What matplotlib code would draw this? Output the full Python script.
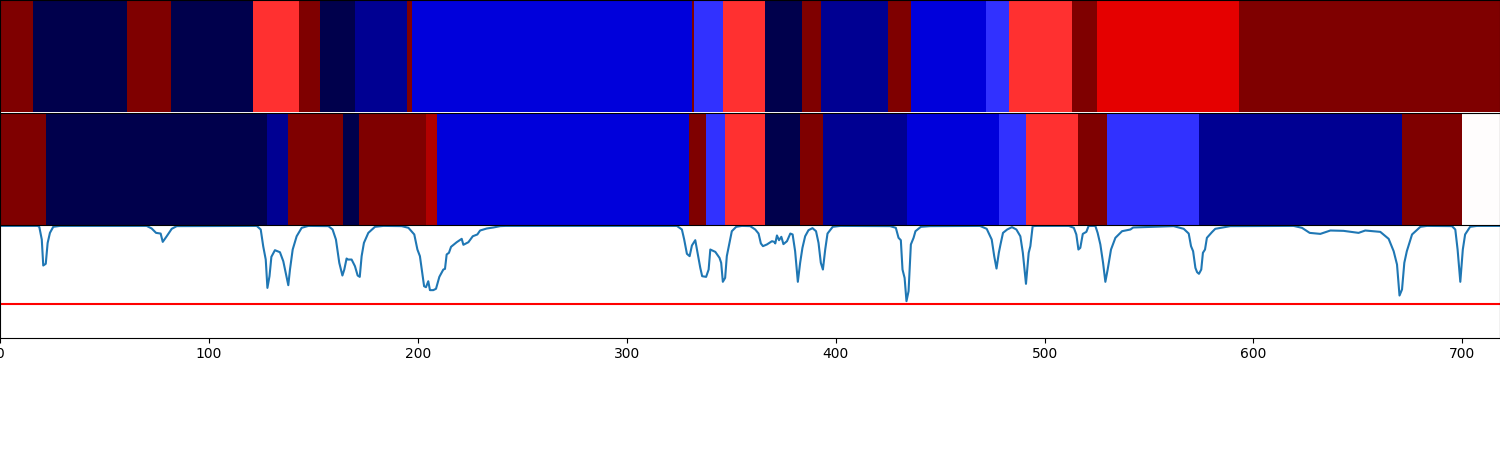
import numpy as np
import matplotlib
matplotlib.use('Agg')
import matplotlib.pyplot as plt

# etiquetas por tramo: fin de cada tramo y clase
top_ends = [16, 61, 82, 121, 143, 153, 170, 195, 197, 331, 332, 346, 366, 384, 393, 425, 436, 472, 483, 513, 525, 593, 718]
top_labels = [10, 0, 10, 0, 7, 10, 0, 1, 10, 2, 10, 3, 7, 0, 10, 1, 10, 2, 3, 7, 10, 8, 10]

mid_ends = [22, 128, 138, 164, 172, 204, 209, 330, 338, 347, 366, 383, 394, 434, 478, 491, 516, 530, 574, 671, 700, 718]
mid_labels = [10, 0, 1, 10, 0, 10, 9, 2, 10, 3, 7, 0, 10, 1, 2, 3, 7, 10, 3, 1, 10, 5]

# curva de abajo
curve_x = [0, 18, 18.8, 20, 20.7, 21.9, 22.8, 23.9, 25.5, 28.7, 70.2, 72.6, 74.7, 76.9, 77.9, 79.8, 82.2, 84.6,
           122.9, 124.8, 126, 127.2, 128, 129, 129.9, 131.6, 134, 135.6, 136.9, 138, 138.8, 140.1, 142, 144.4, 147.6,
           157.2, 159.2, 160.8, 162.4, 163.9, 164.8, 165.9, 166.6, 168.3, 169.9, 171.2, 172.2, 173.1, 174.2, 176.3, 179.5, 183.5,
           192.3, 195.5, 198.3, 199.8, 201, 203, 203.9, 205, 205.8, 207.4, 208.7, 210.3, 212.2, 213, 213.8, 214.9, 215.9,
           218.6, 221, 221.8, 224.2, 226.3, 228.5, 229.8, 233, 236.2, 239.4, 242,
           324, 326.4, 327.5, 328.8, 330.1, 331.2, 332.8, 333.9, 335.2, 336.1, 338, 339.2, 340, 342.4, 344.4, 345.2, 346, 347.1,
           347.9, 349.2, 350.3, 352.4, 355.1, 359.1, 361.5, 363.1, 364.2, 365.2, 367.1, 369.5, 370.6, 371.1, 371.9, 372.9, 374, 375,
           376.7, 378.3, 379.4, 380.6, 381.9, 383, 384.1, 385.4, 387, 388.9, 390.6, 391.8, 392.9, 393.9, 395, 396.1, 398.6, 402.2,
           426.1, 428.8, 430.1, 431.2, 432, 433, 433.9, 434.9, 436, 437.3, 438.2, 440.8, 445.2,
           469.1, 472.3, 474.7, 475.9, 477, 478.1, 478.9, 480.1, 482.1, 484.4, 486.5, 488.4, 489.6, 491.1, 492.4, 493.2, 494.3, 496.4,
           511.6, 514, 515.2, 516.2, 517.1, 518.3, 520, 521.1, 524.3, 525.4, 526.7, 528, 529.1, 530.2, 531.8, 533.9, 537.1, 541.1, 542.4,
           561.8, 566.6, 569, 570.1, 571.1, 572.2, 573, 573.9, 575, 575.8, 576.8, 577.7, 580.1, 581.7, 588.9,
           619.2, 623.2, 626.9, 632, 636.8, 643.1, 650.3, 653.5, 660.7, 664.7, 667.1, 668.7, 669.9, 671.1, 672.2, 673.4, 675.9, 679.9, 683,
           695, 696.6, 697.7, 699, 700.2, 701.3, 703.7, 706.9, 718]
curve_y = [.992, .992, .984, .871, .64, .655, .84, .93, .984, .992, .992, .969, .93, .924, .85, .90, .966, .99,
           .992, .96, .81, .693, .441, .545, .717, .776, .758, .678, .56, .465, .604, .782, .90, .975, .992,
           .99, .96, .871, .664, .551, .604, .702, .693, .693, .634, .551, .539, .723, .841, .93, .984, .992,
           .99, .975, .916, .782, .723, .456, .447, .50, .421, .421, .433, .539, .604, .61, .738, .753, .806,
           .847, .877, .824, .847, .90, .916, .951, .969, .978, .99, .992,
           .992, .96, .871, .744, .723, .818, .865, .753, .619, .545, .539, .604, .782, .761, .708, .664, .495, .53,
           .723, .841, .945, .984, .992, .99, .96, .924, .836, .812, .827, .856, .85, .836, .907, .865, .895, .83,
           .856, .924, .916, .767, .495, .664, .797, .90, .954, .972, .945, .841, .664, .604, .782, .924, .984, .992,
           .99, .975, .886, .865, .604, .53, .323, .412, .827, .886, .945, .984, .99,
           .992, .966, .871, .723, .613, .753, .827, .93, .96, .981, .96, .90, .753, .477, .753, .812, .99, .992,
           .992, .975, .916, .782, .797, .921, .939, .992, .992, .93, .827, .664, .495, .604, .782, .886, .945, .96, .978,
           .99, .966, .924, .812, .767, .619, .581, .566, .604, .753, .782, .886, .936, .966, .99,
           .992, .975, .93, .921, .951, .948, .93, .951, .939, .877, .767, .649, .373, .427, .664, .767, .916, .984, .992,
           .99, .96, .782, .495, .782, .916, .984, .992, .992]
umbral = 0.3


def a_filas(ends, labels):
    # pasa los tramos a un arreglo por cuadro
    largos = np.diff([0] + ends)
    return np.repeat(labels, largos).reshape(1, -1)


fig = plt.figure(figsize=(15, 4.5), dpi=100)
gs = fig.add_gridspec(3, 1, left=0, right=1, top=1, bottom=0.25, hspace=0)

ax1 = fig.add_subplot(gs[0])
ax2 = fig.add_subplot(gs[1], sharex=ax1)
ax3 = fig.add_subplot(gs[2], sharex=ax1)

for ax, ends, labels in [(ax1, top_ends, top_labels), (ax2, mid_ends, mid_labels)]:
    ax.imshow(a_filas(ends, labels), aspect='auto', cmap='seismic', vmin=0, vmax=10,
              interpolation='nearest', extent=(0, ends[-1], 0, 1))
    ax.set_yticks([])
    ax.tick_params(axis='x', bottom=False, labelbottom=False)
    ax.spines['bottom'].set_visible(False)

ax3.plot(curve_x, curve_y)
ax3.axhline(umbral, color='r')
ax3.set_ylim(0, 1)
ax3.set_yticks([])
ax3.set_xlim(0, 718)
ax3.set_xticks(range(0, 701, 100))

fig.savefig('out.png', dpi=100)
